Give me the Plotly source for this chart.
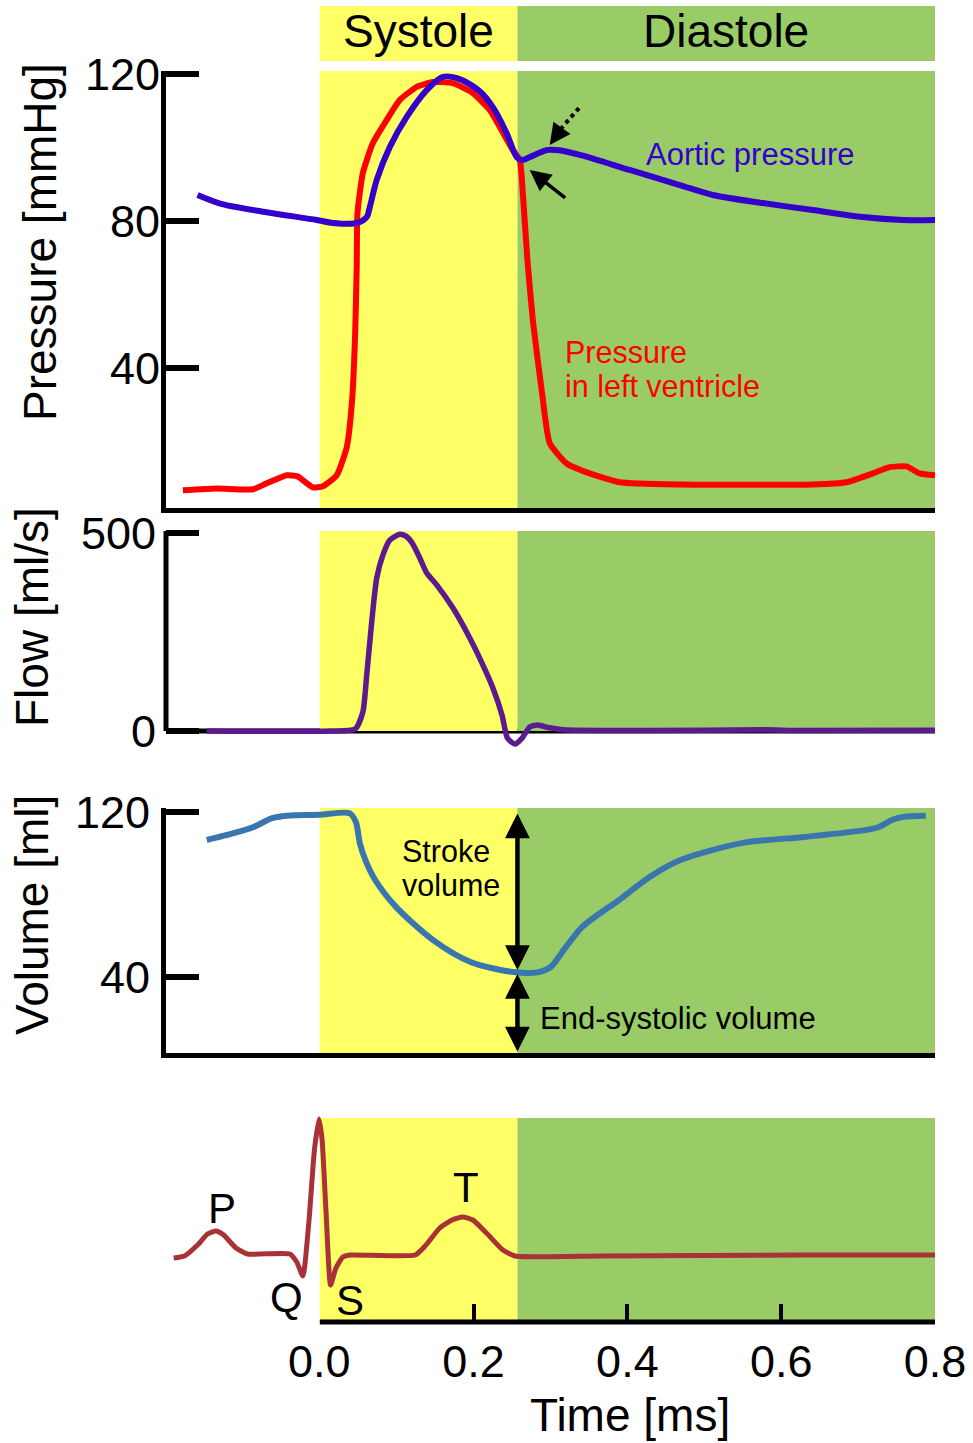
import plotly.graph_objects as go

W, H = 973, 1443
FONT = "Liberation Sans, Arial, sans-serif"

# ---------------- data ----------------
systole_start = 0.0
systole_end = 0.257
time_end = 0.8

aortic_t = [-0.159, -0.127, -0.069, -0.004, 0.017, 0.049, 0.061, 0.065, 0.074, 0.091, 0.113, 0.139,
            0.160, 0.182, 0.208, 0.225, 0.243, 0.256, 0.263, 0.273, 0.295, 0.308, 0.338, 0.403,
            0.468, 0.511, 0.576, 0.641, 0.706, 0.758, 0.800]
aortic_p = [87.1, 84.6, 82.4, 80.3, 79.5, 79.5, 81.1, 83.8, 91.2, 100.1, 108.3, 115.6,
            119.2, 118.6, 115.3, 111.0, 103.9, 97.4, 96.6, 97.4, 99.3, 99.3, 98.0, 93.9,
            89.8, 87.1, 84.9, 83.0, 81.1, 80.3, 80.3]

lv_t = [-0.178, -0.134, -0.087, -0.069, -0.043, -0.029, -0.009, 0.004, 0.022, 0.035, 0.042, 0.046,
        0.048, 0.049, 0.056, 0.069, 0.087, 0.104, 0.126, 0.147, 0.173, 0.199, 0.221, 0.234,
        0.251, 0.260, 0.264, 0.270, 0.277, 0.289, 0.299, 0.321, 0.351, 0.390, 0.468, 0.641,
        0.685, 0.719, 0.741, 0.763, 0.780, 0.800]
lv_p = [6.8, 7.3, 7.1, 8.7, 10.9, 10.6, 7.6, 7.9, 10.9, 18.5, 31.3, 49.5,
        67.5, 82.2, 93.1, 101.2, 107.5, 112.9, 116.5, 117.8, 117.5, 114.8, 110.2, 105.6,
        99.3, 96.6, 87.6, 69.4, 53.1, 33.2, 19.6, 14.1, 11.4, 9.0, 8.4, 8.4,
        9.0, 11.4, 13.1, 13.3, 11.4, 10.9]

flow_t = [-0.147, 0.013, 0.046, 0.056, 0.061, 0.068, 0.074, 0.082, 0.091, 0.104, 0.112, 0.120,
          0.130, 0.139, 0.152, 0.173, 0.195, 0.212, 0.225, 0.237, 0.244, 0.254, 0.263, 0.273,
          0.283, 0.299, 0.316, 0.429, 0.579, 0.624, 0.800]
flow_v = [0, 0, 5, 48, 141, 285, 386, 444, 482, 497, 492, 475,
          437, 399, 369, 311, 235, 167, 109, 40, -18, -33, -18, 10,
          15, 8, 3, 1, 3, 1, 2]

vol_t = [-0.147, -0.111, -0.086, -0.062, -0.039, -0.001, 0.039, 0.047, 0.052, 0.060, 0.072, 0.099,
         0.147, 0.196, 0.252, 0.285, 0.300, 0.319, 0.341, 0.389, 0.429, 0.469, 0.550, 0.631,
         0.711, 0.727, 0.744, 0.759, 0.788]
vol_v = [106.4, 109.8, 112.7, 117.0, 118.3, 118.6, 119.3, 115.0, 105.0, 96.0, 87.0, 74.0,
         58.0, 47.3, 42.4, 42.4, 44.8, 54.0, 64.2, 77.3, 88.5, 96.7, 105.0, 107.9,
         111.3, 112.7, 116.1, 117.6, 118.1]

ecg_t = [-0.190, -0.176, -0.159, -0.146, -0.135, -0.125, -0.109, -0.094, -0.039, -0.030, -0.022,
         -0.014, -0.007, -0.001, 0.003, 0.008, 0.014, 0.021, 0.030, 0.039, 0.124, 0.137, 0.156,
         0.172, 0.186, 0.199, 0.218, 0.238, 0.254, 0.364, 0.624, 0.800]
ecg_mv = [-0.03, -0.01, 0.10, 0.21, 0.24, 0.20, 0.07, 0.01, 0.01, -0.07, -0.21,
          0.35, 1.05, 1.36, 1.15, 0.45, -0.30, -0.13, -0.02, 0.0, 0.0, 0.09, 0.27,
          0.35, 0.38, 0.35, 0.21, 0.05, -0.01, -0.01, 0.0, 0.0]

ecg_labels = ["P", "Q", "R", "S", "T"]
ecg_label_t = [-0.127, -0.043, -0.003, 0.039, 0.190]
ecg_label_v = [0.47, -0.42, 1.57, -0.45, 0.68]

pressure_ticks = [40, 80, 120]
flow_ticks = [0, 500]
volume_ticks = [40, 120]
time_ticks = [0.2, 0.4, 0.6, 0.8]
time_tick_text = ["0.2", "0.4", "0.6", "0.8"]

# ---------------- colours ----------------
YELLOW = "#FFFF66"
GREEN = "#99CC66"
BLUE = "#3300CC"
RED = "#FF0000"
PURPLE = "#5C1A8E"
VBLUE = "#3A76AE"
ECGC = "#A83236"


def py(px):
    return 1 - px / H


def px_x(px):
    return px / W


XDOM = [px_x(166), px_x(935)]

fig = go.Figure()


def line(xs, ys, color, width, xa, ya, smooth):
    return go.Scatter(x=xs, y=ys, mode="lines", xaxis=xa, yaxis=ya, hoverinfo="skip",
                      line=dict(color=color, width=width, shape="spline", smoothing=smooth))


fig.add_trace(line(lv_t, lv_p, RED, 6, "x", "y", 0.5))
fig.add_trace(line(aortic_t, aortic_p, BLUE, 6, "x", "y", 0.8))
fig.add_trace(line(flow_t, flow_v, PURPLE, 5.5, "x2", "y2", 0.6))
fig.add_trace(line(vol_t, vol_v, VBLUE, 6, "x3", "y3", 0.8))
fig.add_trace(line(ecg_t, ecg_mv, ECGC, 5, "x4", "y4", 0.5))

tickfont = dict(family=FONT, size=45, color="black")

common_x = dict(domain=XDOM, range=[-0.2, time_end], showgrid=False, zeroline=False,
                showticklabels=False, ticks="", fixedrange=True, automargin=False)

ycommon = dict(showgrid=False, zeroline=False, ticks="inside", ticklen=33, tickwidth=6,
               tickcolor="black", tickfont=tickfont, automargin=False)

layout = dict(
    width=W, height=H, margin=dict(l=0, r=0, t=0, b=0, autoexpand=False),
    paper_bgcolor="white", plot_bgcolor="rgba(0,0,0,0)", showlegend=False,
    font=dict(family=FONT, color="black"),
    xaxis=dict(common_x, anchor="y", showline=True, linewidth=5, linecolor="black"),
    xaxis2=dict(common_x, anchor="y2", showline=False),
    xaxis3=dict(common_x, anchor="y3", showline=True, linewidth=5, linecolor="black"),
    xaxis4=dict(common_x, anchor="y4", showline=False, showticklabels=True,
                tickvals=time_ticks, ticktext=time_tick_text, ticks="inside",
                ticklen=18, tickwidth=4, tickcolor="black", ticklabelstandoff=9,
                tickfont=dict(tickfont, size=45)),
    yaxis=dict(ycommon, domain=[py(508), py(71)], range=[2, 120.8], anchor="x",
               showline=True, linewidth=5, linecolor="black", tickvals=pressure_ticks,
               ticklabelstandoff=-8),
    yaxis2=dict(ycommon, domain=[py(750), py(531)], range=[-48, 505], anchor="x2",
                showline=False, tickvals=flow_ticks, ticklabelstandoff=9),
    yaxis3=dict(ycommon, domain=[py(1053), py(808)], range=[3.2, 121.9], anchor="x3",
                showline=True, linewidth=5, linecolor="black", tickvals=volume_ticks,
                ticklabelstandoff=2),
    yaxis4=dict(domain=[py(1322), py(1100)], range=[-0.67, 1.55], anchor="x4", showgrid=False,
                zeroline=False, showline=False, showticklabels=False, ticks="", automargin=False),
)
fig.update_layout(**layout)

shapes = []
# header bands
shapes.append(dict(type="rect", xref="x", yref="paper", x0=systole_start, x1=systole_end,
                   y0=py(61), y1=py(6), fillcolor=YELLOW, line=dict(width=0), layer="below"))
shapes.append(dict(type="rect", xref="x", yref="paper", x0=systole_end, x1=time_end,
                   y0=py(61), y1=py(6), fillcolor=GREEN, line=dict(width=0), layer="below"))
# panel backgrounds
for xr, yr, y0, y1 in [("x", "y domain", 0, 1), ("x2", "y2", 0, 505),
                       ("x3", "y3 domain", 0, 1), ("x4", "y4", -0.67, 1.37)]:
    shapes.append(dict(type="rect", xref=xr, yref=yr, x0=systole_start, x1=systole_end,
                       y0=y0, y1=y1, fillcolor=YELLOW, line=dict(width=0), layer="below"))
    shapes.append(dict(type="rect", xref=xr, yref=yr, x0=systole_end, x1=time_end,
                       y0=y0, y1=y1, fillcolor=GREEN, line=dict(width=0), layer="below"))
# flow panel axis lines
shapes.append(dict(type="line", xref="x2 domain", yref="y2", x0=0, x1=0, y0=0, y1=505,
                   line=dict(color="black", width=5), layer="below"))
shapes.append(dict(type="line", xref="x2 domain", yref="y2", x0=0, x1=1, y0=0, y1=0,
                   line=dict(color="black", width=5), layer="below"))
# ECG time axis line
shapes.append(dict(type="line", xref="x4", yref="y4 domain", x0=0, x1=time_end, y0=0, y1=0,
                   line=dict(color="black", width=5), layer="above"))
# dotted arrow shaft
shapes.append(dict(type="line", xref="x", yref="y", x0=0.337, y0=110.7, x1=0.311, y1=104.5,
                   line=dict(color="black", width=4, dash="dot"), layer="above"))

fig.update_layout(shapes=shapes)


def txt(text, xref, yref, x, y, size, color="black", xanchor="center", yanchor="middle",
        **kw):
    return dict(text=text, xref=xref, yref=yref, x=x, y=y, showarrow=False,
                xanchor=xanchor, yanchor=yanchor,
                font=dict(size=size, color=color, family=FONT), **kw)


ann = []
# header texts
ann.append(txt("Systole", "x", "paper", (systole_start + systole_end) / 2, py(31), 46))
ann.append(txt("Diastole", "x", "paper", (systole_end + time_end) / 2, py(31), 46))
# axis titles
for t, xp, yp in [("Pressure [mmHg]", 40, 242), ("Flow [ml/s]", 32, 617),
                  ("Volume [ml]", 32, 915)]:
    ann.append(txt(t, "paper", "paper", px_x(xp), py(yp), 46, textangle=-90))
ann.append(txt("Time [ms]", "paper", "paper", px_x(630), py(1415), 46))
ann.append(txt("0.0", "x4", "paper", 0.0, py(1361), 45))
# pressure labels
ann.append(txt("Aortic pressure", "x", "y", 0.422, 98.0, 31, color=BLUE, xanchor="left"))
ann.append(txt("Pressure", "x", "y", 0.316, 44.4, 30.5, color=RED, xanchor="left"))
ann.append(txt("in left ventricle", "x", "y", 0.316, 35.2, 30.5, color=RED, xanchor="left"))
# arrows panel 1
ann.append(dict(text="", xref="x", yref="y", axref="x", ayref="y", x=0.273, y=93.9,
                ax=0.321, ay=86.0, showarrow=True, arrowhead=2, arrowsize=1.2, arrowwidth=3.5,
                arrowcolor="black"))
ann.append(dict(text="", xref="x", yref="y", axref="x", ayref="y", x=0.299, y=100.7,
                ax=0.312, ay=104.5, showarrow=True, arrowhead=2, arrowsize=1.2, arrowwidth=3.5,
                arrowcolor="black"))
# volume arrows
ann.append(dict(text="", xref="x3", yref="y3", axref="x3", ayref="y3", x=systole_end, y=43.4,
                ax=systole_end, ay=120, showarrow=True, arrowhead=2, startarrowhead=2,
                arrowside="end+start", arrowsize=1.1, startarrowsize=1.1, arrowwidth=4.5,
                arrowcolor="black"))
ann.append(dict(text="", xref="x3", yref="y3", axref="x3", ayref="y3", x=systole_end, y=41.5,
                ax=systole_end, ay=3.2, showarrow=True, arrowhead=2, startarrowhead=2,
                arrowside="end+start", arrowsize=1.1, startarrowsize=1.1, arrowwidth=4.5,
                arrowcolor="black"))
ann.append(txt("Stroke", "x3", "y3", 0.104, 101.1, 30.5, xanchor="left"))
ann.append(txt("volume", "x3", "y3", 0.104, 84.6, 30.5, xanchor="left"))
ann.append(txt("End-systolic volume", "x3", "y3", 0.284, 19.9, 31, xanchor="left"))
# ECG labels
for lab, lt, lv in zip(ecg_labels, ecg_label_t, ecg_label_v):
    ann.append(txt(lab, "x4", "y4", lt, lv, 42))

fig.update_layout(annotations=ann)

fig.write_html("out.html", config=dict(displayModeBar=False))
